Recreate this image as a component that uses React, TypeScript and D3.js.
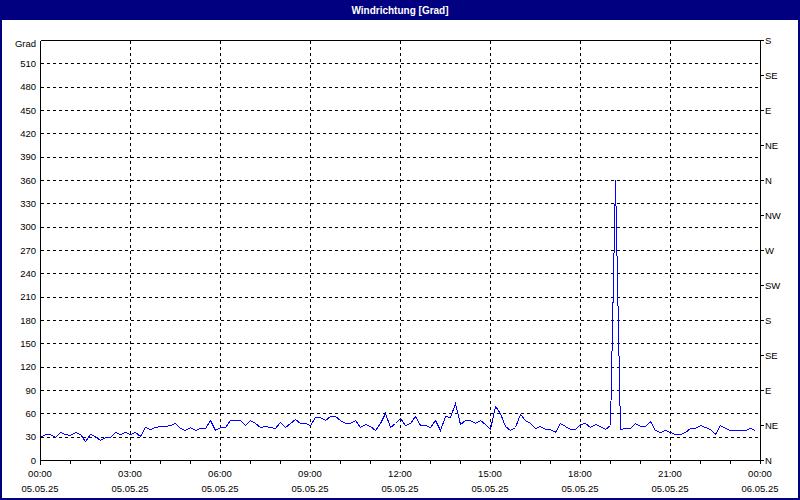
import React from 'react';
import * as d3 from 'd3';

// wind direction, 10 minute samples from 05.05.25 00:00
const windDir: number[] = [
  30, 33, 33, 30, 36, 33, 32, 36, 33, 24, 34, 31, 26, 30, 30, 36, 34, 36,
  34, 36, 31, 42, 40, 43, 44, 44, 45, 48, 41, 39, 42, 39, 41, 41, 52, 39,
  43, 42, 51, 51, 51, 45, 52, 48, 43, 44, 42, 41, 49, 42, 47, 53, 48, 48,
  45, 55, 55, 52, 57, 57, 52, 48, 48, 51, 43, 46, 44, 39, 47, 61, 43, 47,
  54, 45, 48, 56, 45, 45, 43, 52, 39, 57, 55, 73, 46, 51, 52, 48, 51, 46,
  40, 69, 61, 44, 38, 42, 59, 52, 48, 41, 44, 40, 40, 36, 48, 44, 40, 40,
  46, 47, 43, 46, 44, 40, 45, 360, 40, 41, 41, 48, 44, 44, 50, 39, 36, 39,
  36, 33, 34, 36, 41, 41, 45, 43, 40, 34, 45, 41, 38, 39, 39, 39, 41, 39,
];

const leftTicks = [0, 30, 60, 90, 120, 150, 180, 210, 240, 270, 300, 330, 360, 390, 420, 450, 480, 510];
const compassTicks = [0, 45, 90, 135, 180, 225, 270, 315, 360, 405, 450, 495, 540];
const compassLabels = ['N', 'NE', 'E', 'SE', 'S', 'SW', 'W', 'NW', 'N', 'NE', 'E', 'SE', 'S'];
const timeLabels = ['00:00', '03:00', '06:00', '09:00', '12:00', '15:00', '18:00', '21:00', '00:00'];
const dateLabels = ['05.05.25', '05.05.25', '05.05.25', '05.05.25', '05.05.25', '05.05.25', '05.05.25', '05.05.25', '06.05.25'];

const start = new Date(2025, 4, 5, 0, 0);
const end = new Date(2025, 4, 6, 0, 0);

const W = 800;
const H = 500;
const margin = { top: 40, right: 40, bottom: 40, left: 40 };
const font = '"Liberation Sans", Arial, sans-serif';

export default function App() {
  const x = d3.scaleTime().domain([start, end]).range([margin.left, W - margin.right]);
  const y = d3.scaleLinear().domain([0, 540]).range([H - margin.bottom, margin.top]);

  const points = windDir.map((v, i) => ({ t: d3.timeMinute.offset(start, i * 10), v }));
  const line = d3.line<{ t: Date; v: number }>()
    .x(d => Math.round(x(d.t)) + 0.5)
    .y(d => Math.round(y(d.v)) + 0.5);

  const hourTicks = d3.timeHour.range(start, d3.timeHour.offset(end, 1));
  const majorTicks = d3.timeHour.every(3)!.range(start, d3.timeHour.offset(end, 1));

  const x0 = margin.left + 0.5;
  const x1 = W - margin.right + 0.5;
  const yTop = margin.top + 0.5;
  const yBot = H - margin.bottom + 0.5;
  const px = (v: number) => Math.round(v) + 0.5;

  return (
    <svg width={W} height={H} style={{ position: 'absolute', left: 0, top: 0, background: '#fff' }}>
      {/* window frame and title bar */}
      <rect x={0} y={0} width={W} height={20} fill="#000080" />
      <rect x={1} y={1} width={W - 2} height={H - 2} fill="none" stroke="#000080" strokeWidth={2} />
      <text x={W / 2} y={14} textAnchor="middle" fill="#fff" fontFamily={font} fontSize={10} fontWeight="bold">
        Windrichtung [Grad]
      </text>

      {/* horizontal grid */}
      <g shapeRendering="crispEdges">
        {leftTicks.filter(t => t > 0).map(t => (
          <line key={'h' + t} x1={x0} x2={x1} y1={px(y(t))} y2={px(y(t))}
            stroke="#000" strokeDasharray="3,3" />
        ))}
        {majorTicks.filter(t => +t > +start && +t < +end).map(t => (
          <line key={'v' + +t} x1={px(x(t))} x2={px(x(t))} y1={yTop} y2={yBot}
            stroke="#000" strokeDasharray="3,3" />
        ))}
      </g>

      {/* data line */}
      <path d={line(points) ?? ''} fill="none" stroke="#0000ff" strokeWidth={1} shapeRendering="crispEdges" />

      {/* plot frame */}
      <g shapeRendering="crispEdges" stroke="#000">
        <line x1={x0} x2={x0} y1={yTop} y2={yBot + 4} />
        <line x1={x0} x2={x1} y1={yTop} y2={yTop} />
        <line x1={x0} x2={x1} y1={yBot} y2={yBot} />
        <line x1={x1} x2={x1} y1={yTop} y2={yBot} />
        {hourTicks.map(t => (
          <line key={'t' + +t} x1={px(x(t))} x2={px(x(t))} y1={yBot} y2={yBot + 3} />
        ))}
        {compassTicks.map(t => (
          <line key={'r' + t} x1={x1} x2={x1 + 3} y1={px(y(t))} y2={px(y(t))} />
        ))}
      </g>

      {/* left axis labels */}
      <g fontFamily={font} fontSize={9.5} fill="#000" textAnchor="end">
        {leftTicks.map(t => (
          <text key={'l' + t} x={margin.left - 4} y={y(t) + 3.5}>{t}</text>
        ))}
        <text x={margin.left - 4} y={y(540) + 7}>Grad</text>
      </g>

      {/* right compass labels */}
      <g fontFamily={font} fontSize={9.5} fill="#000">
        {compassTicks.map((t, i) => (
          <text key={'c' + t} x={W - margin.right + 5} y={y(t) + 3.5}>{compassLabels[i]}</text>
        ))}
      </g>

      {/* bottom time labels */}
      <g fontFamily={font} fontSize={9.5} fill="#000" textAnchor="middle">
        {majorTicks.map((t, i) => (
          <g key={'b' + +t}>
            <text x={x(t)} y={H - margin.bottom + 17}>{timeLabels[i]}</text>
            <text x={x(t)} y={H - margin.bottom + 32}>{dateLabels[i]}</text>
          </g>
        ))}
      </g>
    </svg>
  );
}
